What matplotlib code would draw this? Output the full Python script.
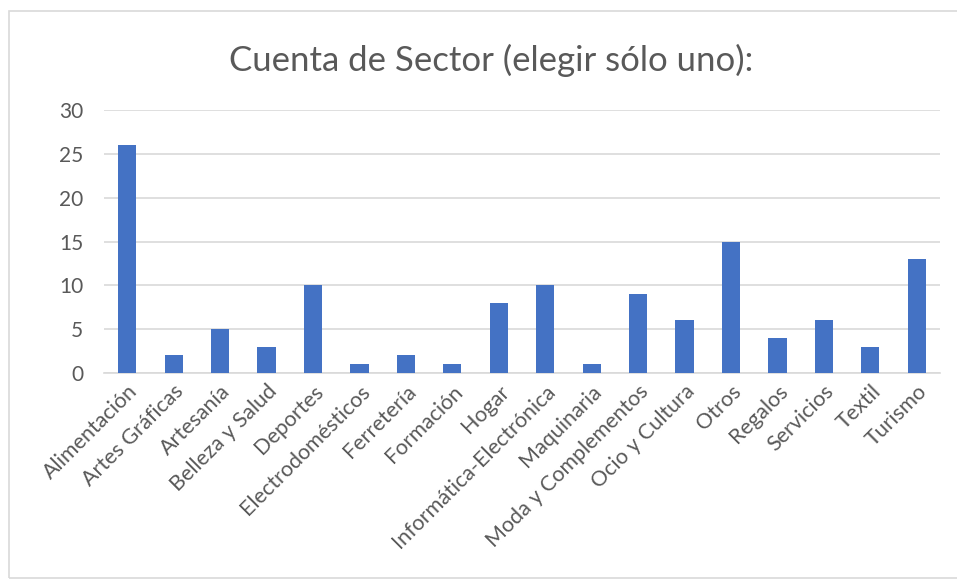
import matplotlib
matplotlib.use("Agg")
import matplotlib.pyplot as plt
from matplotlib.patches import Rectangle

categories = ["Alimentación", "Artes Gráficas", "Artesanía", "Belleza y Salud", "Deportes",
              "Electrodomésticos", "Ferretería", "Formación", "Hogar", "Informática-Electrónica",
              "Maquinaria", "Moda y Complementos", "Ocio y Cultura", "Otros", "Regalos",
              "Servicios", "Textil", "Turismo"]
values = [26, 2, 5, 3, 10, 1, 2, 1, 8, 10, 1, 9, 6, 15, 4, 6, 3, 13]
yticks = [0, 5, 10, 15, 20, 25, 30]
title = "Cuenta de Sector (elegir sólo uno):"

plt.rcParams['font.family'] = ['Lato', 'DejaVu Sans']
W, H = 957, 583
fig = plt.figure(figsize=(W/100, H/100), dpi=100)
fig.patch.set_facecolor('white')

# chart border
fig.patches.append(Rectangle((9/W, 1 - 578/H), (W + 5 - 9)/W, (578 - 11)/H,
                             transform=fig.transFigure, fill=False,
                             edgecolor='#d9d9d9', linewidth=1.2))

left, right, top, bottom = 104, 940, 110, 373
ax = fig.add_axes([left/W, 1 - bottom/H, (right-left)/W, (bottom-top)/H])
x = range(len(categories))
ax.bar(x, values, width=0.39, color='#4472C4', zorder=3)
ax.set_xlim(-0.5, len(categories) - 0.5)
ax.set_ylim(0, 30)
ax.set_yticks(yticks)
ax.set_yticklabels([str(v) for v in yticks], fontsize=15, color='#595959')
ax.set_xticks(list(x))
ax.set_xticklabels(categories, rotation=45, ha='right', rotation_mode='anchor',
                   fontsize=15.5, color='#595959')
ax.tick_params(axis='both', length=0)
ax.tick_params(axis='y', pad=15)
ax.tick_params(axis='x', pad=6)
ax.grid(axis='y', color='#d9d9d9', linewidth=1.2, zorder=0)
for s in ['top', 'right', 'left']:
    ax.spines[s].set_visible(False)
ax.spines['bottom'].set_color('#d9d9d9')
ax.spines['bottom'].set_linewidth(1.2)

fig.text(491/W, 1 - 60/H, title, ha='center', va='center', fontsize=25, color='#595959')

fig.savefig('out.png', dpi=100)
